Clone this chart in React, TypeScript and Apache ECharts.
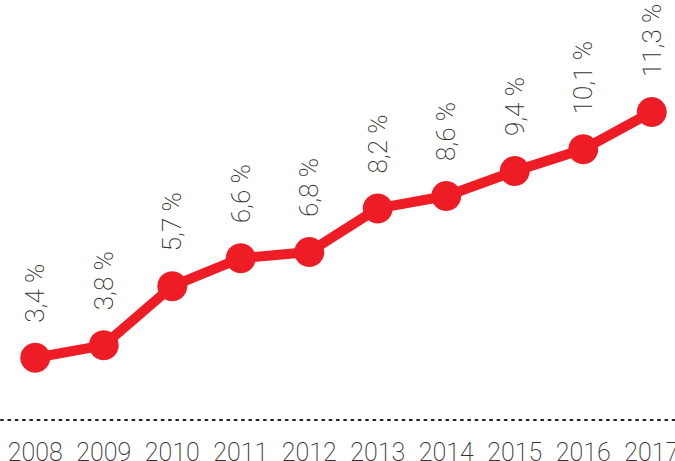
import React, { useEffect, useRef } from "react";
import * as echarts from "echarts";

const years = ["2008", "2009", "2010", "2011", "2012", "2013", "2014", "2015", "2016", "2017"];
const values = [3.4, 3.8, 5.7, 6.6, 6.8, 8.2, 8.6, 9.4, 10.1, 11.3];

export default function App() {
  const ref = useRef<HTMLDivElement>(null);
  useEffect(() => {
    if (!ref.current) return;
    const chart = echarts.init(ref.current, undefined, { renderer: "svg" });
    const font = "Roboto, 'Open Sans', sans-serif";
    chart.setOption({
      animation: false,
      backgroundColor: "#ffffff",
      grid: { left: 1, width: 685, top: 28, bottom: 41, containLabel: false, outerBoundsMode: "none" },
      xAxis: {
        type: "category",
        data: years,
        boundaryGap: true,
        axisTick: { show: false },
        axisLine: { show: true, lineStyle: { color: "#222", width: 2, type: [2, 5.3] } },
        axisLabel: { interval: 0, color: "#333", fontSize: 25, fontWeight: 200, fontFamily: font, margin: 20 },
      },
      yAxis: {
        type: "value",
        min: 1.4,
        max: 14,
        show: false,
        splitLine: { show: false },
      },
      series: [
        {
          type: "line",
          data: values,
          symbol: "circle",
          symbolSize: 30,
          lineStyle: { color: "#ee1d25", width: 10 },
          itemStyle: { color: "#ee1d25" },
          label: {
            show: true,
            position: "top",
            rotate: 90,
            align: "left",
            verticalAlign: "middle",
            distance: 20,
            color: "#333",
            fontSize: 26,
            fontWeight: 200,
            fontFamily: font,
            formatter: (p: any) => String(p.value).replace(".", ",") + " %",
          },
        },
      ],
    });
    return () => chart.dispose();
  }, []);
  return <div ref={ref} style={{ width: 675, height: 461, position: "fixed", left: 0, top: 0 }} />;
}
